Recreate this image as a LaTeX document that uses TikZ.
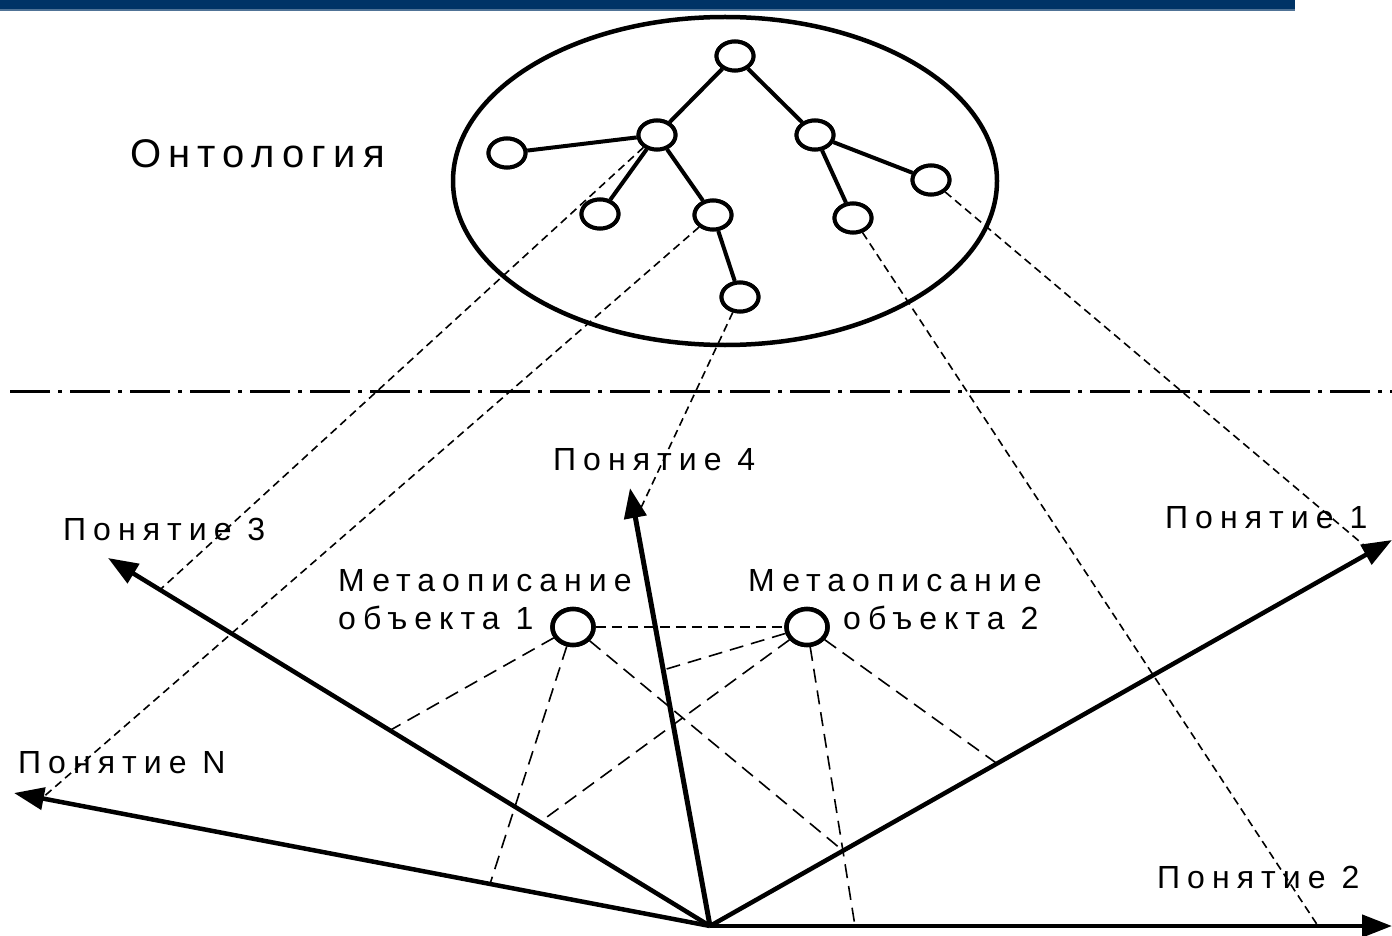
\documentclass[tikz,border=0pt]{standalone}
\usepackage{fontspec}
\setmainfont{Liberation Sans}
\newfontfamily\lblfont[LetterSpace=22]{Liberation Sans}
\newfontfamily\titlefont[LetterSpace=18]{Liberation Sans}
\usetikzlibrary{arrows.meta,shapes.geometric,calc}

\definecolor{barblue}{RGB}{0,51,102}
\definecolor{barline}{RGB}{80,115,150}

\tikzset{
  treenode/.style={ellipse,draw,line width=4pt,fill=white,
    minimum width=37pt,minimum height=29pt,inner sep=0pt},
  objnode/.style={ellipse,draw,line width=4.5pt,fill=white,
    minimum width=41pt,minimum height=36pt,inner sep=0pt},
  treeedge/.style={line width=4pt},
  axis/.style={line width=4.5pt,-{Triangle[length=30pt,width=22pt]}},
  projline/.style={line width=1.6pt,dash pattern=on 8pt off 5pt},
  objline/.style={line width=1.6pt,dash pattern=on 14pt off 8pt},
  linkline/.style={line width=2.2pt,dash pattern=on 10pt off 6pt},
  lbl/.style={anchor=base west,inner sep=0pt,
    font=\lblfont\fontsize{32}{34}\selectfont},
  biglbl/.style={anchor=base west,inner sep=0pt,
    font=\titlefont\fontsize{40}{42}\selectfont}
}

\begin{document}
\begin{tikzpicture}[x=1pt,y=-1pt]
  \useasboundingbox (0,0) rectangle (1392,936);
  \fill[white] (0,0) rectangle (1392,936);

  % header band
  \fill[barblue] (0,0) rectangle (1295,9);
  \fill[barline] (0,9) rectangle (1295,11);

  % ontology outline
  \draw[line width=4.5pt] (725,181) ellipse [x radius=272,y radius=164];

  % separator
  \draw[line width=3pt,dash pattern=on 40pt off 8pt on 4pt off 8pt] (10,391) -- (1392,391);

  % concept axes: origin and ends
  \coordinate (O)  at (710,926);
  \coordinate (e1) at (1392,540);
  \coordinate (e2) at (1392,926);
  \coordinate (e3) at (108,558);
  \coordinate (e4) at (630,488);
  \coordinate (eN) at (14,793);

  % ontology tree nodes
  \node[treenode] (root) at (735,56) {};
  \node[treenode] (l1a)  at (657,135) {};
  \node[treenode] (l1b)  at (815,135) {};
  \node[treenode] (lft)  at (507,153) {};
  \node[treenode] (l2a)  at (600,214) {};
  \node[treenode] (l2b)  at (713,215) {};
  \node[treenode] (l3)   at (740,297) {};
  \node[treenode] (r2a)  at (853,218) {};
  \node[treenode] (r2b)  at (931,180) {};

  % object metadescriptions
  \node[objnode] (ob1) at (573,627) {};
  \node[objnode] (ob2) at (807,627) {};

  % end points of the projections on the axes
  \coordinate (p3) at ($(O)!0.9136!(e3)$);
  \coordinate (pN) at ($(O)!0.96!(eN)$);
  \coordinate (p4) at ($(O)!0.95!(e4)+(6,0)$);
  \coordinate (p2) at ($(O)!0.8915!(e2)$);
  \coordinate (p1) at ($(O)!0.97!(e1)$);
  \coordinate (a3) at ($(O)!0.5316!(e3)$);
  \coordinate (aN) at ($(O)!0.3161!(eN)$);
  \coordinate (a1) at ($(O)!0.195!(e1)$);
  \coordinate (b3) at ($(O)!0.2824!(e3)$);
  \coordinate (b4) at ($(O)!0.5845!(e4)$);
  \coordinate (b2) at ($(O)!0.2126!(e2)$);
  \coordinate (b1) at ($(O)!0.4208!(e1)$);

  % concept to axis projections
  \draw[projline] (l1a) -- (p3);
  \draw[projline] (l2b) -- (pN);
  \draw[projline] (l3)  -- (p4);
  \draw[projline] (r2a) -- (p2);
  \draw[projline] (r2b) -- (p1);

  % object coordinates on the axes
  \draw[objline] (ob1) -- (a3);
  \draw[objline] (ob1) -- (aN);
  \draw[objline] (ob1) -- (a1);
  \draw[objline] (ob2) -- (b3);
  \draw[objline] (ob2) -- (b4);
  \draw[objline] (ob2) -- (b2);
  \draw[objline] (ob2) -- (b1);
  \draw[linkline] (ob1) -- (ob2);

  % tree edges
  \draw[treeedge] (root) -- (l1a);
  \draw[treeedge] (root) -- (l1b);
  \draw[treeedge] (l1a) -- (lft);
  \draw[treeedge] (l1a) -- (l2a);
  \draw[treeedge] (l1a) -- (l2b);
  \draw[treeedge] (l2b) -- (l3);
  \draw[treeedge] (l1b) -- (r2a);
  \draw[treeedge] (l1b) -- (r2b);

  % redraw nodes on top of the lines
  \foreach \p in {{735,56},{657,135},{815,135},{507,153},
                  {600,214},{713,215},{740,297},{853,218},{931,180}}
    \node[treenode] at (\p) {};
  \node[objnode] at (573,627) {};
  \node[objnode] at (807,627) {};

  % concept axes
  \draw[axis] (O) -- (e1);
  \draw[axis] (O) -- (e2);
  \draw[axis] (O) -- (e3);
  \draw[axis,line width=5pt] (O) -- (e4);
  \draw[axis] (O) -- (eN);

  % labels
  \node[biglbl] (ont) at (130,168) {Онтология};
  \node[lbl] (c4) at (553,470) {Понятие 4};
  \node[lbl] (c3) at (63,540) {Понятие 3};
  \node[lbl] (c1) at (1165,528) {Понятие 1};
  \node[lbl] (cN) at (18,773) {Понятие N};
  \node[lbl] (c2) at (1157,888) {Понятие 2};
  \node[lbl] (m1a) at (338,591) {Метаописание};
  \node[lbl] (m1b) at (338,629) {объекта 1};
  \node[lbl] (m2a) at (748,591) {Метаописание};
  \node[lbl] (m2b) at (843,629) {объекта 2};
\end{tikzpicture}
\end{document}
